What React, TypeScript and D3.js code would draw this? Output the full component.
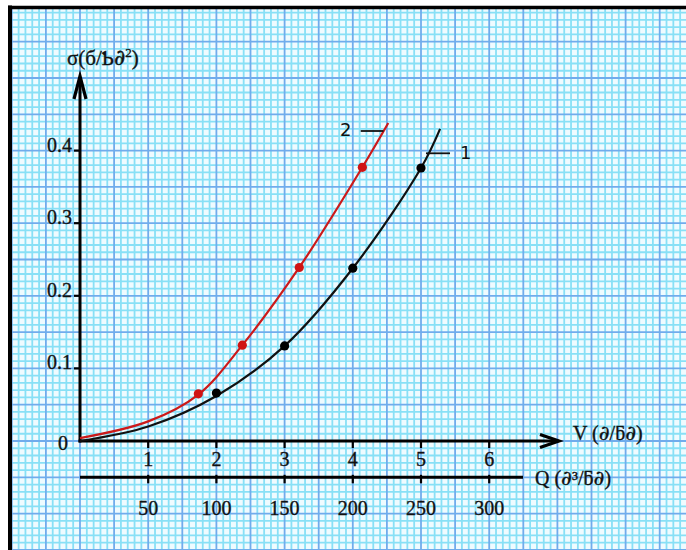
import React from "react";
import * as d3 from "d3";

const vTicks = [1, 2, 3, 4, 5, 6];
const qTicks = [50, 100, 150, 200, 250, 300];
const sTicks = [0.1, 0.2, 0.3, 0.4];
const sTickLabels = ["0.1", "0.2", "0.3", "0.4"];

const curve1V = [0, 1, 2, 3, 4, 5, 5.28];
const curve1S = [0, 0.02, 0.062, 0.131, 0.238, 0.376, 0.43];
const dots1V = [2, 3, 4, 5];
const dots1S = [0.066, 0.131, 0.238, 0.376];

const curve2V = [0, 1, 1.735, 2.38, 3.215, 4.14, 4.52];
const curve2S = [0.004, 0.027, 0.064, 0.132, 0.239, 0.377, 0.438];
const dots2V = [1.735, 2.38, 3.215, 4.14];
const dots2S = [0.065, 0.132, 0.239, 0.377];

const W = 686;
const H = 550;

export default function App() {
  const x = d3.scaleLinear().domain([0, 6]).range([80, 489.2]);
  const q = d3.scaleLinear().domain([0, 300]).range([80, 489.2]);
  const y = d3.scaleLinear().domain([0, 0.4]).range([441, 150.6]);

  const majorX = 34.1;
  const majorY = 36.3;
  const left = 10;
  const top = 7.5;

  const vMinor: number[] = [];
  const vMajor: number[] = [];
  for (let k = -20; k <= 120; k++) {
    const px = 80 + (k * majorX) / 5;
    if (px < left || px > W) continue;
    if (k % 5 === 0) vMajor.push(px);
    else vMinor.push(px);
  }
  const hMinor: number[] = [];
  const hMajor: number[] = [];
  for (let k = -20; k <= 90; k++) {
    const py = 441 - (k * majorY) / 5;
    if (py < top || py > H) continue;
    if (k % 5 === 0) hMajor.push(py);
    else hMinor.push(py);
  }

  const line = d3
    .line<[number, number]>()
    .x((d) => x(d[0]))
    .y((d) => y(d[1]))
    .curve(d3.curveCatmullRom.alpha(0.5));

  const c1 = curve1V.map((v, i) => [v, curve1S[i]] as [number, number]);
  const c2 = curve2V.map((v, i) => [v, curve2S[i]] as [number, number]);

  const serif = "'Liberation Serif', 'Times New Roman', serif";
  const sans = "'DejaVu Sans', sans-serif";
  const dSerif = "'DejaVu Serif', serif";
  const txt = { fill: "#111", stroke: "#111", strokeWidth: 0.35 };

  const x0 = x(0);
  const y0 = y(0);
  const qy = 477.3;

  return (
    <svg
      width={W}
      height={H}
      style={{ position: "absolute", left: 0, top: 0, background: "#ffffff" }}
    >
      <rect x={left} y={top} width={W - left} height={H - top} fill="#effbff" />
      {vMinor.map((px, i) => (
        <line key={"vm" + i} x1={px} x2={px} y1={top} y2={H} stroke="#88e0f6" strokeWidth={1.8} />
      ))}
      {hMinor.map((py, i) => (
        <line key={"hm" + i} x1={left} x2={W} y1={py} y2={py} stroke="#88e0f6" strokeWidth={1.8} />
      ))}
      {vMajor.map((px, i) => (
        <line key={"vM" + i} x1={px} x2={px} y1={top} y2={H} stroke="#70acec" strokeWidth={1.8} />
      ))}
      {hMajor.map((py, i) => (
        <line key={"hM" + i} x1={left} x2={W} y1={py} y2={py} stroke="#70acec" strokeWidth={1.8} />
      ))}
      {/* frame */}
      <line x1={left} x2={left} y1={top - 2} y2={H} stroke="#000" strokeWidth={4} />
      <line x1={left - 2} x2={W} y1={top} y2={top} stroke="#000" strokeWidth={3.5} />

      {/* axes */}
      <line x1={x0} x2={x0} y1={y0 + 1.5} y2={78} stroke="#000" strokeWidth={3} />
      <polyline
        points={`${x0 - 6},${99} ${x0},${76} ${x0 + 6},${99}`}
        fill="none"
        stroke="#000"
        strokeWidth={3.2}
      />
      <line x1={x0 - 1.5} x2={558} y1={y0} y2={y0} stroke="#000" strokeWidth={3} />
      <polyline
        points={`${540},${434.5} ${559},${y0} ${540},${447.5}`}
        fill="none"
        stroke="#000"
        strokeWidth={3.2}
      />
      <line x1={x0} x2={523} y1={qy} y2={qy} stroke="#000" strokeWidth={3} />

      {vTicks.map((v) => (
        <g key={"vt" + v}>
          <line x1={x(v)} x2={x(v)} y1={y0} y2={y0 + 7} stroke="#000" strokeWidth={2.2} />
          <text x={x(v)} y={466} textAnchor="middle" fontFamily={serif} fontSize={20} {...txt}>
            {v}
          </text>
        </g>
      ))}
      {qTicks.map((v) => (
        <g key={"qt" + v}>
          <line x1={q(v)} x2={q(v)} y1={qy - 2.5} y2={qy + 6} stroke="#000" strokeWidth={2.2} />
          <text x={q(v)} y={515} textAnchor="middle" fontFamily={serif} fontSize={20} {...txt}>
            {v}
          </text>
        </g>
      ))}
      {sTicks.map((s, i) => (
        <g key={"st" + s}>
          <line x1={x0 - 6} x2={x0} y1={y(s)} y2={y(s)} stroke="#000" strokeWidth={2.2} />
          <text x={72} y={y(s) + 1} textAnchor="end" fontFamily={serif} fontSize={20} {...txt}>
            {sTickLabels[i]}
          </text>
        </g>
      ))}
      <text x={63} y={450} textAnchor="middle" fontFamily={serif} fontSize={20} {...txt}>
        0
      </text>

      {/* axis titles */}
      <text x={67} y={65} fontFamily={serif} fontSize={21} {...txt}>
        σ(б/Ƅ<tspan fontFamily={dSerif} fontSize={22}>∂</tspan>
        <tspan dy={-8} fontSize={13}>2</tspan>
        <tspan dy={8}>)</tspan>
      </text>
      <text x={573} y={440} fontFamily={serif} fontSize={20} {...txt}>
        V (<tspan fontFamily={dSerif} fontSize={21}>∂</tspan>/ƃ
        <tspan fontFamily={dSerif} fontSize={21}>∂</tspan>)
      </text>
      <text x={535} y={485} fontFamily={serif} fontSize={20} {...txt}>
        Q  (<tspan fontFamily={dSerif} fontSize={21}>∂</tspan>³/ƃ
        <tspan fontFamily={dSerif} fontSize={21}>∂</tspan>)
      </text>

      {/* curves */}
      <path d={line(c1) || ""} fill="none" stroke="#111" strokeWidth={2.2} />
      <path d={line(c2) || ""} fill="none" stroke="#cc1a1a" strokeWidth={2.2} />
      {dots1V.map((v, i) => (
        <circle key={"d1" + i} cx={x(v)} cy={y(dots1S[i])} r={4.6} fill="#000" />
      ))}
      {dots2V.map((v, i) => (
        <circle key={"d2" + i} cx={x(v)} cy={y(dots2S[i])} r={4.6} fill="#d01414" />
      ))}

      {/* curve labels */}
      <line x1={360.7} x2={383.5} y1={131} y2={131} stroke="#111" strokeWidth={1.8} />
      <text x={340} y={136} fontFamily={sans} fontSize={18} fill="#111">
        2
      </text>
      <line x1={426} x2={450} y1={153.3} y2={153.3} stroke="#111" strokeWidth={1.8} />
      <text x={460} y={159} fontFamily={sans} fontSize={18} fill="#111">
        1
      </text>
    </svg>
  );
}
